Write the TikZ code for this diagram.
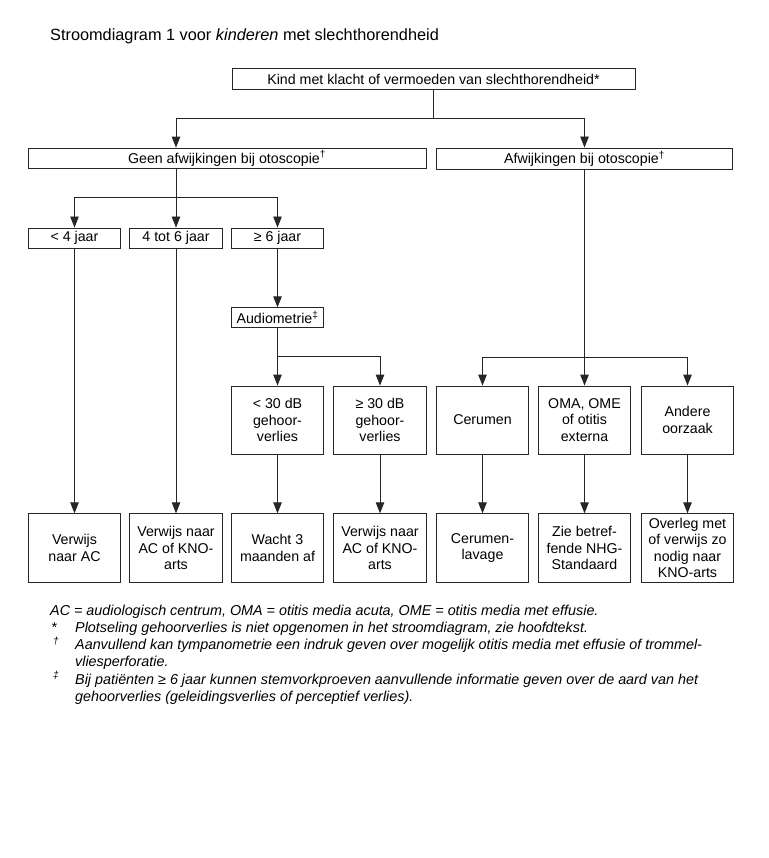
\documentclass[tikz,border=0pt]{standalone}
\usepackage{fontspec}
\setmainfont{Liberation Sans}
\usetikzlibrary{arrows.meta}
\begin{document}
\begin{tikzpicture}[x=1pt,y=-1pt,
  box/.style={draw=black!85, line width=0.9pt, inner sep=0pt, align=center,
    font=\fontsize{14.2}{16.3}\selectfont},
  sbox/.style={box, minimum width=92.5pt, minimum height=20pt},
  mbox/.style={box, minimum width=92.5pt, minimum height=68pt},
  arr/.style={draw=black!85, line width=0.9pt, -{Triangle[width=8.5pt,length=11pt]}},
  ln/.style={draw=black!85, line width=0.9pt},
  fn/.style={inner sep=0pt, anchor=base west, font=\fontsize{14.35}{17}\selectfont\itshape}]
\useasboundingbox (0,0) rectangle (768,858);
\fill[white] (0,0) rectangle (768,858);

\node[inner sep=0pt, anchor=base west, font=\fontsize{16.3}{19}\selectfont] (title) at (50,41)
  {Stroomdiagram 1 voor \textit{kinderen} met slechthorendheid};

\node[box, minimum width=403pt, minimum height=21pt] (top) at (433.5,79)
  {Kind met klacht of vermoeden van slechthorendheid*};
\node[box, minimum width=398pt, minimum height=20.5pt] (geen) at (227,158.3)
  {Geen afwijkingen bij otoscopie\textsuperscript{†}};
\node[box, minimum width=296pt, minimum height=21pt] (afw) at (584.5,158.5)
  {Afwijkingen bij otoscopie\textsuperscript{†}};

\node[sbox] (lt4) at (74.5,238) {< 4 jaar};
\node[sbox] (a46) at (176,238) {4 tot 6 jaar};
\node[sbox] (ge6) at (277.5,238) {≥ 6 jaar};
\node[box, minimum width=92.5pt, minimum height=19.5pt] (audio) at (277.5,317.5) {Audiometrie\textsuperscript{‡}};

\node[mbox] (lt30) at (277.5,420) {< 30 dB\\gehoor-\\verlies};
\node[mbox] (ge30) at (380,420) {≥ 30 dB\\gehoor-\\verlies};
\node[mbox] (cer) at (482.5,420) {Cerumen};
\node[mbox] (oma) at (584.5,420) {OMA, OME\\of otitis\\externa};
\node[mbox] (and) at (687.5,420) {Andere\\oorzaak};

\node[mbox, minimum height=68.5pt] (b1) at (74.5,548) {Verwijs\\naar AC};
\node[mbox, minimum height=68.5pt] (b2) at (176,548) {Verwijs naar\\AC of KNO-\\arts};
\node[mbox, minimum height=68.5pt] (b3) at (277.5,548) {Wacht 3\\maanden af};
\node[mbox, minimum height=68.5pt] (b4) at (380,548) {Verwijs naar\\AC of KNO-\\arts};
\node[mbox, minimum height=68.5pt] (b5) at (482.5,548) {Cerumen-\\lavage};
\node[mbox, minimum height=68.5pt] (b6) at (584.5,548) {Zie betref-\\fende NHG-\\Standaard};
\node[mbox, minimum height=68.5pt] (b7) at (687.5,548) {Overleg met\\of verwijs zo\\nodig naar\\KNO-arts};

% connectors
\coordinate (jtop) at (433.5,118.5);
\coordinate (jtl) at (176,118.5);
\coordinate (jtr) at (584.5,118.5);
\draw[ln] (top.south) -- (jtop);
\draw[arr] (jtop) -- (jtl) -- (jtl |- geen.north);
\draw[arr] (jtop) -- (jtr) -- (afw.north);

\coordinate (jg) at (176,197);
\draw[ln] (geen.south -| jg) -- (jg);
\draw[arr] (jg) -| (lt4);
\draw[arr] (jg) -- (a46);
\draw[arr] (jg) -| (ge6);

\draw[arr] (ge6) -- (audio);
\coordinate (ja) at (277.5,356);
\draw[ln] (audio) -- (ja);
\draw[arr] (ja) -- (lt30);
\draw[arr] (ja) -| (ge30);

\coordinate (jr) at (584.5,357);
\draw[ln] (afw) -- (jr);
\draw[arr] (jr) -| (cer);
\draw[arr] (jr) -- (oma);
\draw[arr] (jr) -| (and);

\draw[arr] (lt4) -- (b1);
\draw[arr] (a46) -- (b2);
\draw[arr] (lt30) -- (b3);
\draw[arr] (ge30) -- (b4);
\draw[arr] (cer) -- (b5);
\draw[arr] (oma) -- (b6);
\draw[arr] (and) -- (b7);

% footnotes
\node[fn] (f1) at (50,615) {AC = audiologisch centrum, OMA = otitis media acuta, OME = otitis media met effusie.};
\node[fn] (m2) at (51,632.3) {*};
\node[fn] (f2) at (75,632.3) {Plotseling gehoorverlies is niet opgenomen in het stroomdiagram, zie hoofdtekst.};
\node[fn] (m3) at (53,649.6) {\textsuperscript{†}};
\node[fn] (f3) at (75,649.6) {Aanvullend kan tympanometrie een indruk geven over mogelijk otitis media met effusie of trommel-};
\node[fn] (f4) at (75,666.9) {vliesperforatie.};
\node[fn] (m5) at (53,684.2) {\textsuperscript{‡}};
\node[fn] (f5) at (75,684.2) {Bij patiënten ≥ 6 jaar kunnen stemvorkproeven aanvullende informatie geven over de aard van het};
\node[fn] (f6) at (75,701.5) {gehoorverlies (geleidingsverlies of perceptief verlies).};
\end{tikzpicture}
\end{document}
